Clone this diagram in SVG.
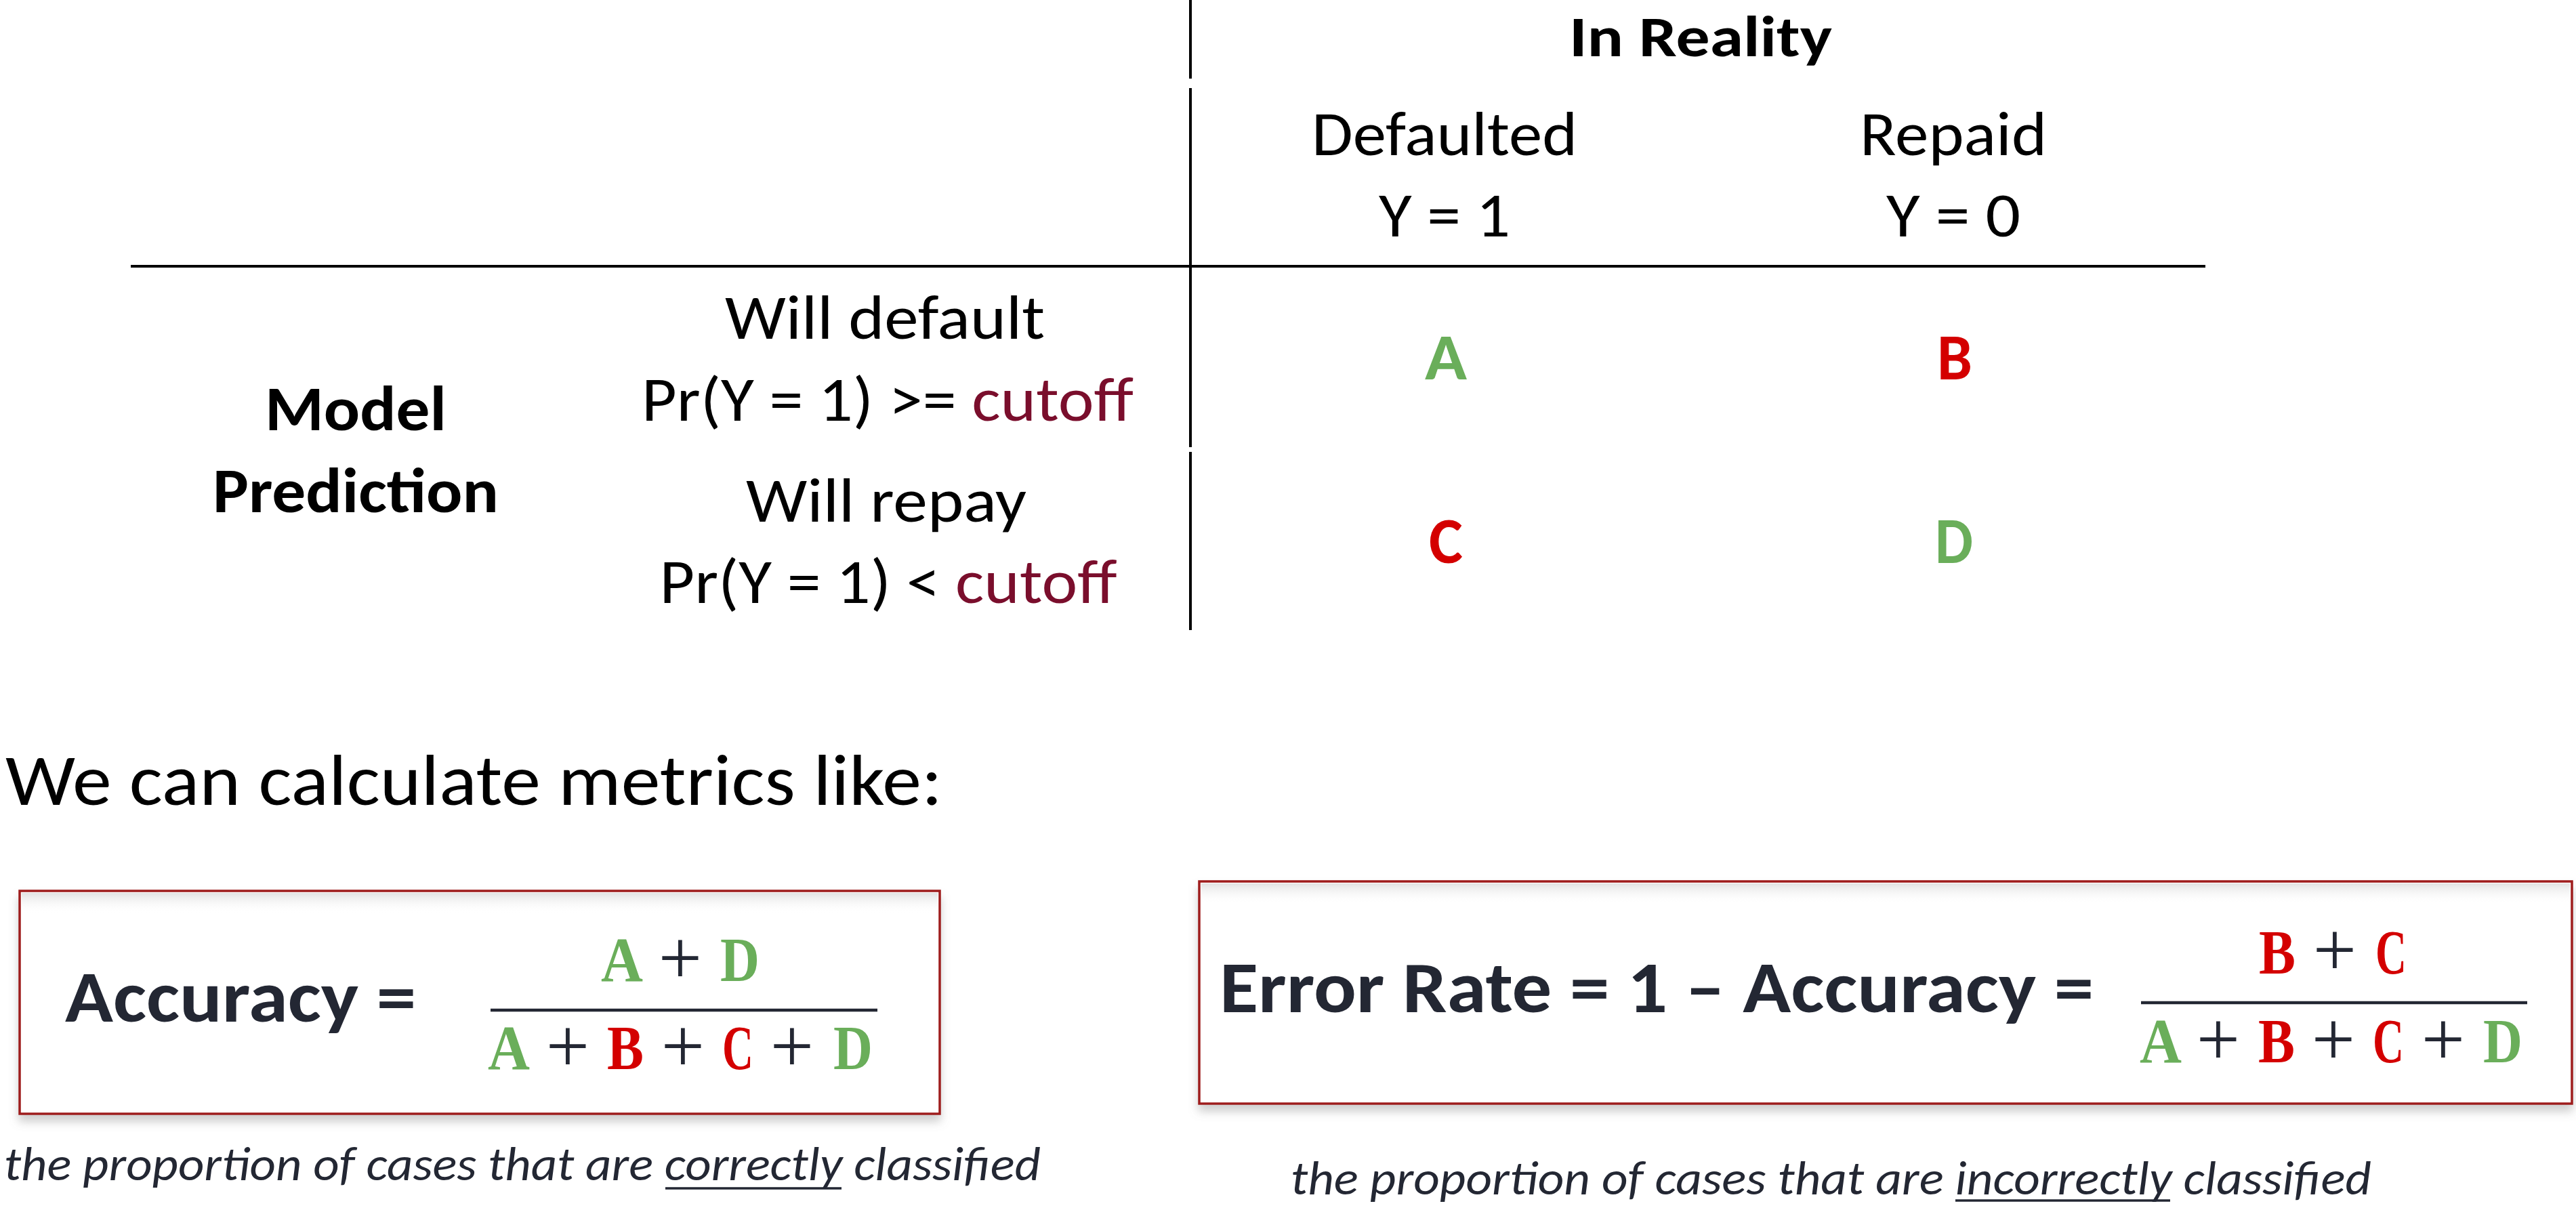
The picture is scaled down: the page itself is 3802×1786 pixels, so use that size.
<svg xmlns="http://www.w3.org/2000/svg" width="3802" height="1786" viewBox="0 0 3802 1786">
<defs>
<style>
.t{font-family:Carlito,Lato,"Liberation Sans",sans-serif;fill:#000}
.tbl{font-size:93px}
.lt{font-size:97px}
.b{font-weight:bold}
.mid{text-anchor:middle}
.g{fill:#6AAE5A}
.r{fill:#D40000}
.cut{fill:#7A0E2C}
.navy{fill:#232733}
.m{font-family:"Liberation Serif","DejaVu Serif",serif;font-weight:bold;font-size:93px;text-anchor:middle}
.p{font-family:"Liberation Serif","DejaVu Serif",serif;font-weight:normal;font-size:114px;fill:#232733;text-anchor:middle}
.grid{stroke:#000;stroke-width:4;fill:none}
.box{fill:#fff;stroke:#9E1A1A;stroke-width:3.5}
.bar{stroke:#232733;stroke-width:4.5}
.ul{stroke:#232733;stroke-width:3.5}
.cap{font-style:italic;font-size:70px}
.big{font-size:108px}
</style>
<filter id="sh" x="-5%" y="-10%" width="110%" height="135%">
<feDropShadow dx="0" dy="10" stdDeviation="7" flood-color="#777" flood-opacity="0.35"/>
</filter>
<linearGradient id="inner" x1="0" y1="0" x2="0" y2="1">
<stop offset="0" stop-color="#e2e2e2"/>
<stop offset="1" stop-color="#ffffff" stop-opacity="0"/>
</linearGradient>
</defs>
<rect width="3802" height="1786" fill="#fff"/>

<g id="connectors">
<line class="grid" x1="1757" y1="0" x2="1757" y2="116"/>
<line class="grid" x1="1757" y1="130" x2="1757" y2="660"/>
<line class="grid" x1="1757" y1="667" x2="1757" y2="930"/>
<line class="grid" x1="193" y1="393" x2="3255" y2="393"/>
</g>

<g id="header-reality">
<text class="t b mid" x="2510" y="83" font-size="84" textLength="388" lengthAdjust="spacingAndGlyphs">In Reality</text>
</g>
<g id="col-defaulted">
<text class="t tbl mid" x="2132" y="229" textLength="392" lengthAdjust="spacingAndGlyphs">Defaulted</text>
<text class="t tbl mid" x="2132" y="349" textLength="194" lengthAdjust="spacingAndGlyphs">Y = 1</text>
</g>
<g id="col-repaid">
<text class="t tbl mid" x="2883" y="229" textLength="276" lengthAdjust="spacingAndGlyphs">Repaid</text>
<text class="t tbl mid" x="2883" y="349" textLength="198" lengthAdjust="spacingAndGlyphs">Y = 0</text>
</g>
<g id="row-header">
<text class="t tbl b mid" x="525" y="635" textLength="268" lengthAdjust="spacingAndGlyphs">Model</text>
<text class="t tbl b mid" x="525" y="756" textLength="422" lengthAdjust="spacingAndGlyphs">Prediction</text>
</g>
<g id="row-default">
<text class="t tbl mid" x="1306" y="500" textLength="472" lengthAdjust="spacingAndGlyphs">Will default</text>
<text class="t tbl mid" x="1310" y="621" textLength="726" lengthAdjust="spacingAndGlyphs">Pr(Y = 1) &gt;= <tspan class="cut">cutoff</tspan></text>
</g>
<g id="row-repay">
<text class="t tbl mid" x="1308" y="770" textLength="414" lengthAdjust="spacingAndGlyphs">Will repay</text>
<text class="t tbl mid" x="1311" y="890" textLength="675" lengthAdjust="spacingAndGlyphs">Pr(Y = 1) &lt; <tspan class="cut">cutoff</tspan></text>
</g>
<g id="cell-a"><text class="t lt b mid g" x="2134" y="560" textLength="62" lengthAdjust="spacingAndGlyphs">A</text></g>
<g id="cell-b"><text class="t lt b mid r" x="2885" y="560" textLength="52" lengthAdjust="spacingAndGlyphs">B</text></g>
<g id="cell-c"><text class="t lt b mid r" x="2134" y="831" textLength="50" lengthAdjust="spacingAndGlyphs">C</text></g>
<g id="cell-d"><text class="t lt b mid g" x="2884" y="831" textLength="56" lengthAdjust="spacingAndGlyphs">D</text></g>

<g id="intro">
<text class="t" x="8" y="1188" font-size="106" textLength="1383" lengthAdjust="spacingAndGlyphs">We can calculate metrics like:</text>
</g>

<g id="accuracy-box">
<rect class="box" x="29" y="1315" width="1358" height="329" filter="url(#sh)"/>
<rect x="32" y="1318" width="1352" height="30" fill="url(#inner)"/>
<text class="t big b navy" x="96" y="1508" textLength="518" lengthAdjust="spacingAndGlyphs">Accuracy =</text>
<text class="m g" x="918" y="1448" textLength="62" lengthAdjust="spacingAndGlyphs">A</text>
<text class="p" x="1004" y="1452">+</text>
<text class="m g" x="1092" y="1448" textLength="58" lengthAdjust="spacingAndGlyphs">D</text>
<line class="bar" x1="724" y1="1491" x2="1295" y2="1491"/>
<text class="m g" x="751" y="1578" textLength="62" lengthAdjust="spacingAndGlyphs">A</text>
<text class="p" x="838" y="1582">+</text>
<text class="m r" x="923" y="1578" textLength="54" lengthAdjust="spacingAndGlyphs">B</text>
<text class="p" x="1008" y="1582">+</text>
<text class="m r" x="1089" y="1578" textLength="46" lengthAdjust="spacingAndGlyphs">C</text>
<text class="p" x="1169" y="1582">+</text>
<text class="m g" x="1259" y="1578" textLength="58" lengthAdjust="spacingAndGlyphs">D</text>
</g>
<g id="accuracy-caption">
<text class="t cap navy" x="6" y="1742" textLength="1530" lengthAdjust="spacingAndGlyphs">the proportion of cases that are correctly classified</text>
<line class="ul" x1="982" y1="1754" x2="1242" y2="1754"/>
</g>

<g id="error-box">
<rect class="box" x="1770" y="1301" width="2026" height="328" filter="url(#sh)"/>
<rect x="1773" y="1304" width="2020" height="30" fill="url(#inner)"/>
<text class="t big b navy" x="1800" y="1494" textLength="1290" lengthAdjust="spacingAndGlyphs">Error Rate = 1 – Accuracy =</text>
<text class="m r" x="3361" y="1437" textLength="54" lengthAdjust="spacingAndGlyphs">B</text>
<text class="p" x="3446" y="1440">+</text>
<text class="m r" x="3529" y="1437" textLength="46" lengthAdjust="spacingAndGlyphs">C</text>
<line class="bar" x1="3160" y1="1480" x2="3730" y2="1480"/>
<text class="m g" x="3189" y="1568" textLength="62" lengthAdjust="spacingAndGlyphs">A</text>
<text class="p" x="3274" y="1572">+</text>
<text class="m r" x="3360" y="1568" textLength="54" lengthAdjust="spacingAndGlyphs">B</text>
<text class="p" x="3444" y="1572">+</text>
<text class="m r" x="3525" y="1568" textLength="46" lengthAdjust="spacingAndGlyphs">C</text>
<text class="p" x="3606" y="1572">+</text>
<text class="m g" x="3694" y="1568" textLength="58" lengthAdjust="spacingAndGlyphs">D</text>
</g>
<g id="error-caption">
<text class="t cap navy" x="1905" y="1763" textLength="1595" lengthAdjust="spacingAndGlyphs">the proportion of cases that are incorrectly classified</text>
<line class="ul" x1="2886" y1="1772" x2="3203" y2="1772"/>
</g>
</svg>
